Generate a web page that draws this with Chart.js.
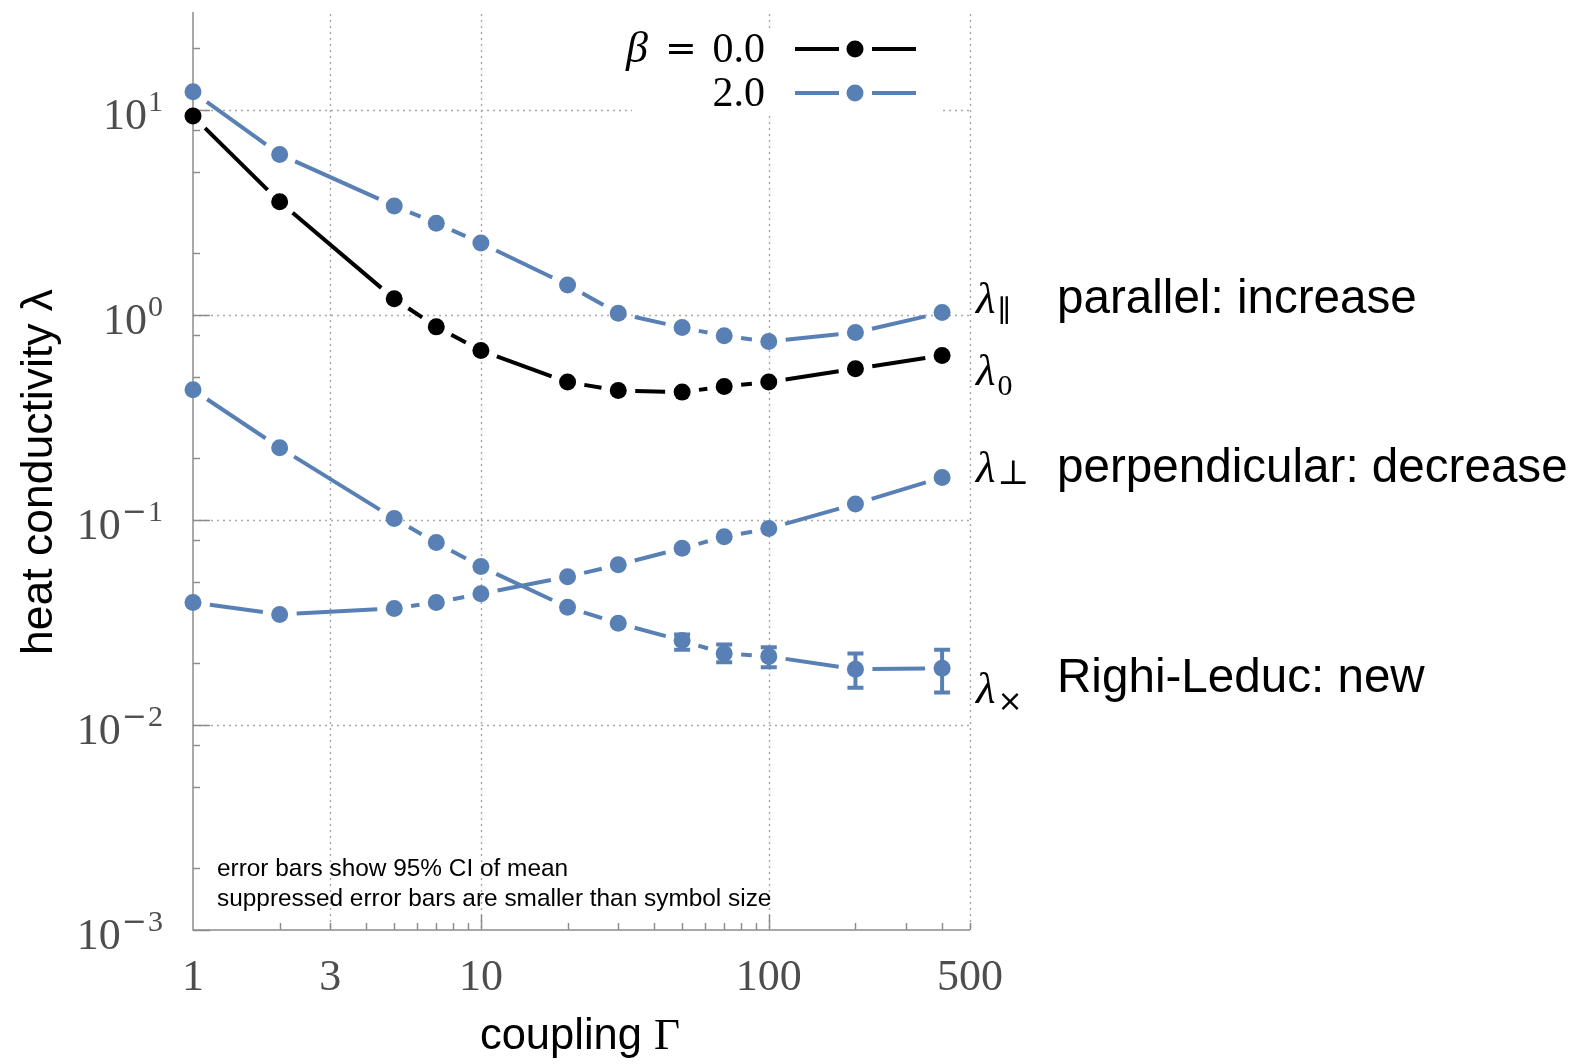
<!DOCTYPE html>
<html>
<head>
<meta charset="utf-8">
<script src="https://cdn.jsdelivr.net/npm/chart.js@4/dist/chart.umd.min.js"></script>
<style>
html,body{margin:0;padding:0;background:#fff;overflow:hidden;}
#wrap{position:relative;width:1569px;height:1064px;}
</style>
</head>
<body>
<div id="wrap"><canvas id="c"></canvas></div>
<script>
// ---- data ----
const gammaValues = [1, 2, 5, 7, 10, 20, 30, 50, 70, 100, 200, 400];
const lambda0     = [9.32, 3.56, 1.197, 0.874, 0.670, 0.470, 0.428, 0.420, 0.4475, 0.470, 0.546, 0.634];
const lambdaPar   = [12.24, 6.06, 3.40, 2.80, 2.24, 1.400, 1.019, 0.867, 0.790, 0.741, 0.820, 1.026];
const lambdaPerp  = [0.0396, 0.0346, 0.0370, 0.0396, 0.0436, 0.0528, 0.0604, 0.0727, 0.0827, 0.0907, 0.1197, 0.1612];
const lambdaCross = [0.431, 0.225, 0.1015, 0.0775, 0.0592, 0.0375, 0.0313, 0.0258, 0.0223, 0.0216, 0.0187, 0.0189];
const crossErrLow  = [null, null, null, null, null, null, null, 0.0233, 0.0202, 0.0191, 0.0152, 0.0144];
const crossErrHigh = [null, null, null, null, null, null, null, 0.0276, 0.0247, 0.0239, 0.0223, 0.0233];

const xTickValues = [1, 3, 10, 100, 500];
const xTickLabels = ['1', '3', '10', '100', '500'];
const yTickExponents = [1, 0, -1, -2, -3];
const legendLabels = ['0.0', '2.0'];
const seriesNames = ['λ0 (β = 0.0)', 'λ∥ (β = 2.0)', 'λ⊥ (β = 2.0)', 'λ× (β = 2.0)'];
const annotationSymbols = ['∥', '0', '⊥', '×'];
const annotationTexts = ['parallel: increase', '', 'perpendicular: decrease', 'Righi-Leduc: new'];
const noteLines = ['error bars show 95% CI of mean', 'suppressed error bars are smaller than symbol size'];

const BLACK = '#000000';
const BLUE = 'rgb(88,128,181)';
const GRID = '#a8a8a8';
const AXIS = '#8c8c8c';
const TICKTXT = '#4d4d4d';
const SERIF = '"Liberation Serif", "DejaVu Serif", serif';
const SANS = '"Liberation Sans", Arial, sans-serif';

function pts(ys) { return gammaValues.map((g, i) => ({x: g, y: ys[i]})); }

const datasets = [
  {label: seriesNames[0], data: pts(lambda0), color: BLACK},
  {label: seriesNames[1], data: pts(lambdaPar), color: BLUE},
  {label: seriesNames[2], data: pts(lambdaPerp), color: BLUE},
  {label: seriesNames[3], data: pts(lambdaCross), color: BLUE, errLow: crossErrLow, errHigh: crossErrHigh}
].map(d => ({
  label: d.label, data: d.data, showLine: false,
  pointRadius: 8.5, pointHoverRadius: 8.5, pointBackgroundColor: d.color, pointBorderWidth: 0,
  borderColor: d.color, backgroundColor: d.color, clip: false,
  errLow: d.errLow, errHigh: d.errHigh
}));

// custom plugin: gridlines, axes, ticks, gapped lines, error bars, labels
const drawPlugin = {
  id: 'drawPlugin',
  beforeDatasetsDraw(chart) {
    const ctx = chart.ctx, ca = chart.chartArea;
    const xs = chart.scales.x, ys = chart.scales.y;
    ctx.save();
    // dotted grid
    ctx.strokeStyle = GRID; ctx.lineWidth = 1.4; ctx.setLineDash([2, 4]);
    for (const v of [3, 10, 100, 500]) {
      const px = Math.round(xs.getPixelForValue(v)) + 0.5;
      ctx.beginPath(); ctx.moveTo(px, ca.top + 2); ctx.lineTo(px, ca.bottom); ctx.stroke();
    }
    for (const e of [1, 0, -1, -2]) {
      const py = Math.round(ys.getPixelForValue(Math.pow(10, e))) + 0.5;
      ctx.beginPath(); ctx.moveTo(ca.left, py); ctx.lineTo(ca.right, py); ctx.stroke();
    }
    ctx.setLineDash([]);
    // legend white box (covers grid)
    ctx.fillStyle = '#fff';
    ctx.fillRect(632, 30, 311, 85);
    // axes
    ctx.strokeStyle = AXIS; ctx.lineWidth = 1.5;
    ctx.beginPath(); ctx.moveTo(ca.left, ca.top); ctx.lineTo(ca.left, ca.bottom); ctx.lineTo(ca.right, ca.bottom); ctx.stroke();
    // y ticks
    for (let e = -3; e <= 1; e++) {
      for (const m of [1, 2, 5, 8]) {
        const v = m * Math.pow(10, e);
        if (v > ys.max * 1.0001 || v < ys.min * 0.9999) continue;
        const py = Math.round(ys.getPixelForValue(v)) + 0.5;
        const len = (m === 1) ? 17 : 7;
        ctx.beginPath(); ctx.moveTo(ca.left, py); ctx.lineTo(ca.left + len, py); ctx.stroke();
      }
    }
    // x ticks
    for (let e = 0; e <= 2; e++) {
      for (let m = 1; m <= 9; m++) {
        const v = m * Math.pow(10, e);
        if (v > xs.max * 1.0001 || v <= 1) continue;
        const px = Math.round(xs.getPixelForValue(v)) + 0.5;
        const len = (m === 1) ? 15 : 7;
        ctx.beginPath(); ctx.moveTo(px, ca.bottom); ctx.lineTo(px, ca.bottom - len); ctx.stroke();
      }
    }
    // gapped connecting lines
    const GAP = 17;
    chart.data.datasets.forEach((ds, di) => {
      const meta = chart.getDatasetMeta(di);
      ctx.strokeStyle = ds.borderColor; ctx.lineWidth = 4; ctx.lineCap = 'butt';
      for (let i = 0; i < meta.data.length - 1; i++) {
        const a = meta.data[i], b = meta.data[i + 1];
        const dx = b.x - a.x, dy = b.y - a.y, d = Math.hypot(dx, dy);
        if (d <= 2 * GAP + 2) continue;
        const ux = dx / d, uy = dy / d;
        ctx.beginPath();
        ctx.moveTo(a.x + ux * GAP, a.y + uy * GAP);
        ctx.lineTo(b.x - ux * GAP, b.y - uy * GAP);
        ctx.stroke();
      }
    });
    ctx.restore();
  },
  afterDatasetsDraw(chart) {
    const ctx = chart.ctx;
    const xs = chart.scales.x, ys = chart.scales.y;
    ctx.save();
    chart.data.datasets.forEach((ds) => {
      if (!ds.errLow) return;
      ctx.strokeStyle = ds.borderColor; ctx.lineWidth = 4;
      ds.data.forEach((p, i) => {
        const lo = ds.errLow[i], hi = ds.errHigh[i];
        if (lo == null || hi == null) return;
        const px = xs.getPixelForValue(p.x);
        const pl = ys.getPixelForValue(lo), ph = ys.getPixelForValue(hi);
        ctx.beginPath();
        ctx.moveTo(px, pl); ctx.lineTo(px, ph);
        ctx.moveTo(px - 8, pl); ctx.lineTo(px + 8, pl);
        ctx.moveTo(px - 8, ph); ctx.lineTo(px + 8, ph);
        ctx.stroke();
      });
    });
    ctx.restore();
  },
  afterDraw(chart) {
    const ctx = chart.ctx;
    const xs = chart.scales.x, ys = chart.scales.y;
    ctx.save();
    // y tick labels 10^e
    ctx.fillStyle = TICKTXT;
    ctx.textAlign = 'right'; ctx.textBaseline = 'alphabetic';
    for (const e of yTickExponents) {
      const py = ys.getPixelForValue(Math.pow(10, e));
      ctx.font = '30px ' + SERIF;
      let sw = ctx.measureText(String(Math.abs(e))).width;
      ctx.fillText(String(Math.abs(e)), 163, py + 1);
      if (e < 0) {
        ctx.font = '30px "DejaVu Serif", serif';
        const mw = ctx.measureText('\u2212').width;
        ctx.fillText('\u2212', 163 - sw - 1, py + 1);
        sw += mw + 1;
      }
      ctx.font = '44px ' + SERIF;
      ctx.fillText('10', 163 - sw - 1, py + 19);
    }
    // x tick labels
    ctx.textAlign = 'center';
    ctx.font = '44px ' + SERIF;
    xTickValues.forEach((v, i) => {
      ctx.fillText(xTickLabels[i], xs.getPixelForValue(v), 990);
    });
    // axis titles
    ctx.fillStyle = '#000';
    const t1 = 'coupling ';
    ctx.font = '43.5px ' + SANS; const w1 = ctx.measureText(t1).width;
    ctx.font = '45px ' + SERIF; const w2 = ctx.measureText('\u0393').width;
    const startX = 580 - (w1 + w2) / 2;
    ctx.textAlign = 'left';
    ctx.font = '43.5px ' + SANS; ctx.fillText(t1, startX, 1049);
    ctx.font = '45px ' + SERIF; ctx.fillText('\u0393', startX + w1, 1049);
    ctx.save();
    ctx.translate(52, 472); ctx.rotate(-Math.PI / 2);
    ctx.textAlign = 'center'; ctx.font = '44.5px ' + SANS;
    ctx.fillText('heat conductivity \u03BB', 0, 0);
    ctx.restore();
    // notes
    ctx.font = '24.4px ' + SANS; ctx.textAlign = 'left';
    ctx.fillText(noteLines[0], 217, 876);
    ctx.fillText(noteLines[1], 217, 906);
    // legend
    const legY = [49, 93];
    const legCol = [BLACK, BLUE];
    ctx.font = '42px ' + SERIF; ctx.textAlign = 'right';
    legendLabels.forEach((lab, i) => {
      ctx.fillStyle = '#000';
      ctx.font = '42px ' + SERIF; ctx.textAlign = 'right';
      ctx.fillText(lab, 765, legY[i] + 13);
      ctx.strokeStyle = legCol[i]; ctx.lineWidth = 4;
      ctx.beginPath(); ctx.moveTo(795, legY[i]); ctx.lineTo(839, legY[i]);
      ctx.moveTo(872, legY[i]); ctx.lineTo(916, legY[i]); ctx.stroke();
      ctx.fillStyle = legCol[i];
      ctx.beginPath(); ctx.arc(855, legY[i], 8.5, 0, Math.PI * 2); ctx.fill();
    });
    ctx.fillStyle = '#000';
    ctx.textAlign = 'center';
    ctx.font = '38px "DejaVu Serif", serif'; ctx.fillText('=', 681, legY[0] + 12);
    ctx.font = 'italic 44px ' + SERIF; ctx.fillText('\u03B2', 637, legY[0] + 13);
    // right annotations
    const annY = [313, 385, 482, 703];
    const subDy = [8, 10, 2, 8];
    const subFont = ['30px ' + SERIF, '30px ' + SERIF, '34px "DejaVu Serif", serif', '30px "DejaVu Sans", sans-serif'];
    annotationSymbols.forEach((s, i) => {
      ctx.fillStyle = '#000';
      ctx.textAlign = 'left';
      ctx.font = 'italic 45px ' + SERIF;
      ctx.fillText('\u03BB', 976, annY[i]);
      const lw = ctx.measureText('\u03BB').width;
      ctx.font = subFont[i];
      ctx.fillText(s, 976 + lw + 2, annY[i] + subDy[i]);
      if (annotationTexts[i]) {
        ctx.font = '47.6px ' + SANS;
        ctx.fillText(annotationTexts[i], 1057, i === 3 ? 692 : annY[i]);
      }
    });
    ctx.restore();
  }
};

new Chart(document.getElementById('c'), {
  type: 'scatter',
  data: {datasets},
  options: {
    responsive: true, maintainAspectRatio: false, animation: false,
    layout: {padding: {left: 193, right: 599, top: 12, bottom: 134}},
    scales: {
      x: {type: 'logarithmic', min: 1, max: 500, display: false},
      y: {type: 'logarithmic', min: 0.001, max: 30, display: false}
    },
    plugins: {legend: {display: false}, tooltip: {enabled: false}}
  },
  plugins: [drawPlugin]
});
</script>
</body>
</html>
